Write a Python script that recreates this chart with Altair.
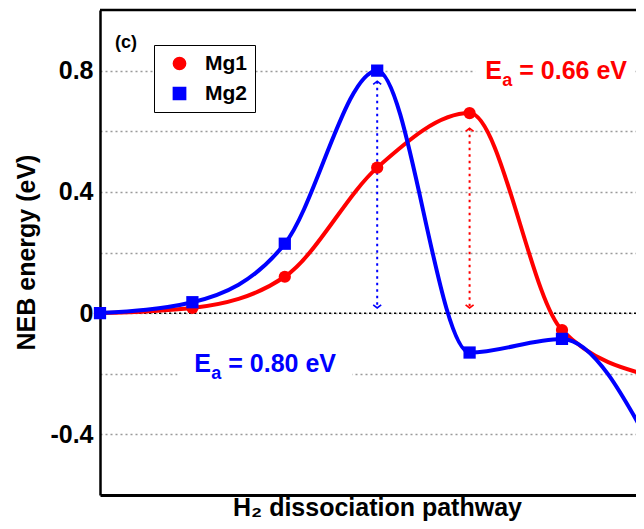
import altair as alt
import pandas as pd

# ---- data ----
steps = [0, 1, 2, 3, 4, 5, 6]
mg1 = [0.0, 0.017, 0.12, 0.48, 0.66, -0.056, -0.21]
mg2 = [0.0, 0.036, 0.229, 0.80, -0.13, -0.085, -0.46]
series_names = ["Mg1", "Mg2"]
series_colors = ["#ff0000", "#0000ff"]

# barrier arrows (x step, top, bottom)
arrow_step = [4, 3]
arrow_top = [0.61, 0.765]
arrow_bottom = [0.017, 0.017]

# annotation texts
ann_step = [4.17, 1.02]
ann_base = [0.772, -0.194]
ann_value = ["= 0.66 eV", "= 0.80 eV"]
# white boxes behind annotations (break the grid lines)
box_x1 = [4.06, 0.84]
box_x2 = [5.79, 2.73]
box_y1 = [0.76, -0.235]
box_y2 = [0.84, -0.165]

FONT = "Liberation Sans"

rows = []
for s, v1, v2 in zip(steps, mg1, mg2):
    rows.append({"step": s, "energy": v1, "series": "Mg1"})
    rows.append({"step": s, "energy": v2, "series": "Mg2"})
df = pd.DataFrame(rows)
df_pts = df[df["step"] <= 5]

arrows = pd.DataFrame({"step": arrow_step, "energy": arrow_top,
                       "energy2": arrow_bottom, "c": series_colors})
ann = pd.DataFrame({"step": ann_step, "energy": ann_base,
                    "val": ann_value, "c": series_colors})
boxes = pd.DataFrame({"step": box_x1, "step2": box_x2,
                      "energy": box_y1, "energy2": box_y2})
zero = pd.DataFrame({"energy": [0.0]})

x_scale = alt.Scale(domain=[0, 5.801], nice=False, zero=False)
y_scale = alt.Scale(domain=[-0.6, 1.0], nice=False)

x_axis = alt.Axis(title="H₂ dissociation pathway", labels=False, ticks=False,
                  grid=False, domainColor="black", domainWidth=3,
                  titleFont=FONT, titleFontSize=25, titleFontWeight="bold",
                  titleColor="black", titleX=277, titleY=20,
                  titleBaseline="alphabetic", titleAlign="center")
y_axis = alt.Axis(title="NEB energy (eV)",
                  values=[-0.4, -0.2, 0, 0.2, 0.4, 0.6, 0.8],
                  labelExpr="datum.value == 0 ? '0' : (abs(round(datum.value*10)) % 4 == 0 ? (datum.value < 0 ? '-' : '') + format(abs(datum.value), '.1f') : '')",
                  ticks=False, grid=True, gridDash=[2, 3], gridColor="#9a9a9a",
                  gridWidth=1.5, domainColor="black", domainWidth=2.5,
                  labelFont=FONT, labelFontSize=25, labelFontWeight="bold",
                  labelColor="black", labelPadding=7,
                  titleFont=FONT, titleFontSize=25, titleFontWeight="bold",
                  titleColor="black", titleAngle=270, titleX=-74, titleY=242,
                  titleBaseline="middle", titleAlign="center")

X = alt.X("step:Q", scale=x_scale, axis=x_axis)
Y = alt.Y("energy:Q", scale=y_scale, axis=y_axis)

color = alt.Color("series:N",
                  scale=alt.Scale(domain=series_names, range=series_colors),
                  legend=alt.Legend(orient="none", legendX=54, legendY=35,
                                    title=None, fillColor="white",
                                    strokeColor="black", padding=8,
                                    symbolOffset=7, labelOffset=15,
                                    rowPadding=8, symbolSize=150,
                                    labelFont=FONT, labelFontSize=21,
                                    labelFontWeight="bold", labelColor="black"))
shape = alt.Shape("series:N",
                  scale=alt.Scale(domain=series_names, range=["circle", "square"]))

box_layer = alt.Chart(boxes).mark_rect(color="white").encode(
    x=X, x2="step2:Q", y=Y, y2="energy2:Q")

zero_layer = alt.Chart(zero).mark_rule(color="black", strokeDash=[2, 3],
                                       strokeWidth=1.5).encode(y=Y)

arrow_line = alt.Chart(arrows).mark_rule(strokeDash=[2.5, 4], strokeWidth=2).encode(
    x=X, y=Y, y2="energy2:Q", color=alt.Color("c:N", scale=None))
arrow_up = alt.Chart(arrows).mark_point(shape="M-1,0.8L0,0L1,0.8", filled=False,
                                        size=64, strokeWidth=1.6, opacity=1).encode(
    x=X, y=Y, color=alt.Color("c:N", scale=None))
arrow_dn = alt.Chart(arrows).mark_point(shape="M-1,-0.8L0,0L1,-0.8", filled=False,
                                        size=64, strokeWidth=1.6, opacity=1).encode(
    x=X, y=alt.Y("energy2:Q", scale=y_scale, axis=y_axis),
    color=alt.Color("c:N", scale=None))

lines = alt.Chart(df).mark_line(interpolate="monotone", strokeWidth=4,
                                clip=True).encode(
    x=X, y=Y, color=color, detail="series:N")
points = alt.Chart(df_pts).mark_point(filled=True, size=150, opacity=1).encode(
    x=X, y=Y, color=color, shape=shape)

t_E = alt.Chart(ann).mark_text(align="left", baseline="alphabetic", font=FONT,
                               fontSize=25, fontWeight="bold").encode(
    x=X, y=Y, text=alt.value("E"), color=alt.Color("c:N", scale=None))
t_a = alt.Chart(ann).mark_text(align="left", baseline="alphabetic", font=FONT,
                               fontSize=18, fontWeight="bold", dx=17, dy=7).encode(
    x=X, y=Y, text=alt.value("a"), color=alt.Color("c:N", scale=None))
t_v = alt.Chart(ann).mark_text(align="left", baseline="alphabetic", font=FONT,
                               fontSize=25, fontWeight="bold", dx=34).encode(
    x=X, y=Y, text="val:N", color=alt.Color("c:N", scale=None))

label_c = alt.Chart(zero).mark_text(align="left", baseline="alphabetic", font=FONT,
                                    fontSize=18, fontWeight="bold",
                                    color="black").encode(
    x=alt.value(15), y=alt.value(38), text=alt.value("(c)"))
top_border = alt.Chart(zero).mark_rule(color="black", strokeWidth=2.5).encode(
    x=alt.value(0), x2=alt.value(536), y=alt.value(0))

chart = alt.layer(
    box_layer, zero_layer, arrow_line, arrow_up, arrow_dn,
    lines, points, t_E, t_a, t_v, label_c, top_border
).properties(
    width=536, height=485,
    padding={"left": 92, "top": 2, "right": 0, "bottom": 26},
    autosize=alt.AutoSizeParams(type="none"),
).configure_view(stroke=None).configure(background="white")

chart.save("out.html", embed_options={"renderer": "svg", "actions": False})
